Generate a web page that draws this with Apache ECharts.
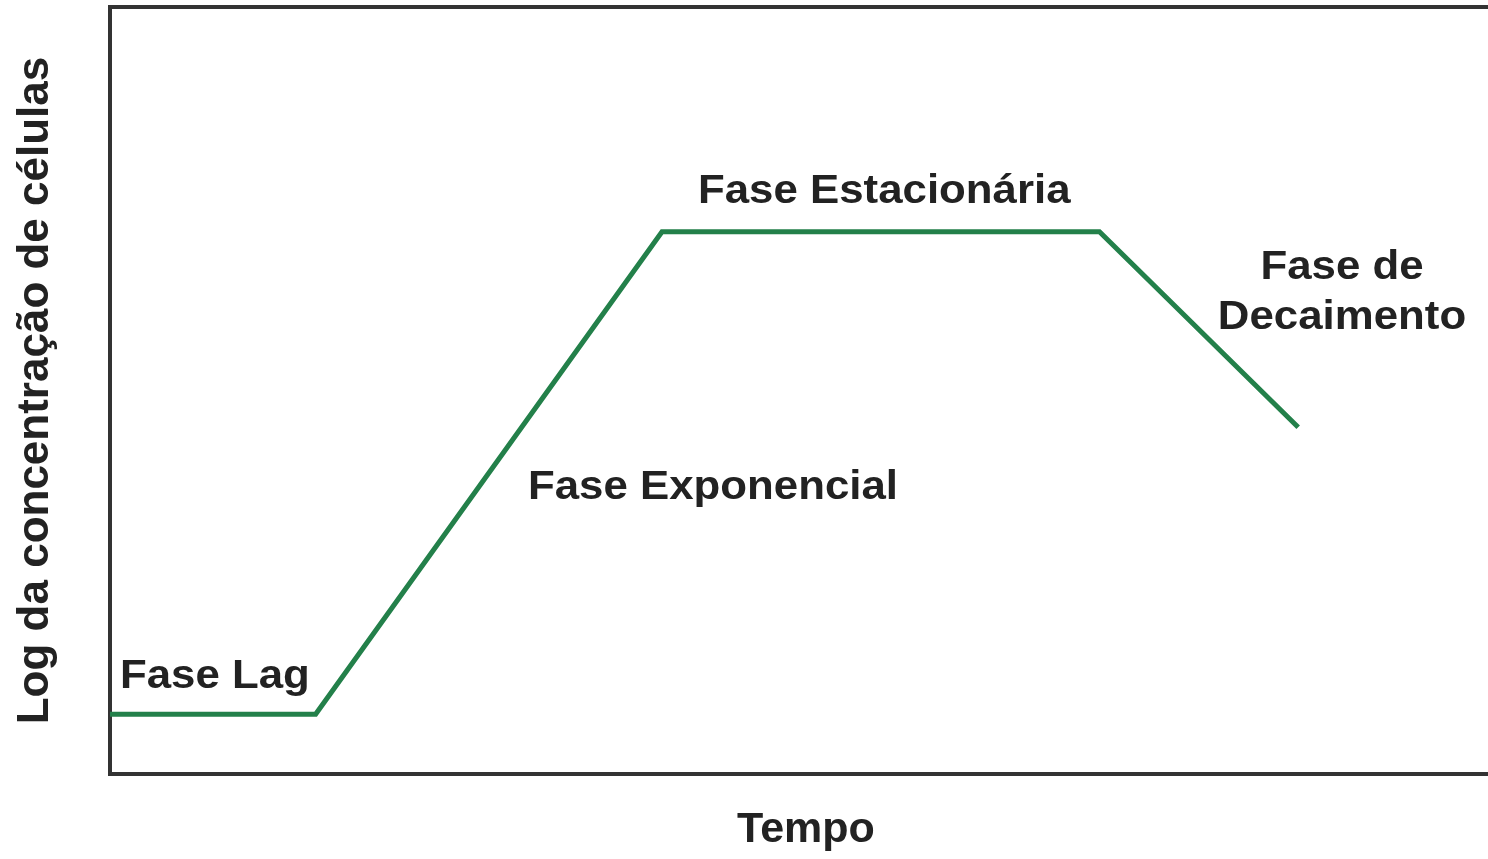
<!DOCTYPE html>
<html>
<head>
<meta charset="utf-8">
<title>Curva de crescimento</title>
<script src="https://cdn.jsdelivr.net/npm/echarts@6/dist/echarts.min.js"></script>
<style>
  html, body { margin: 0; padding: 0; background: #fff; }
  #container { width: 1488px; height: 859px; }
</style>
</head>
<body>
<div id="container"></div>
<script>
var dom = document.getElementById("container");
var myChart = echarts.init(dom);

// tempo (0-100) e log da concentração (0-100)
var tempo = [0, 14.9, 40.0, 71.7, 86.1];
var logConc = [7.8, 7.8, 70.7, 70.7, 45.2];

var fases = ['Fase Lag', 'Fase Exponencial', 'Fase Estacionária', 'Fase de\nDecaimento'];

var verde = '#23804a';
var fonte = '"Liberation Sans", Arial, Helvetica, sans-serif';

var pontos = [];
for (var i = 0; i < tempo.length; i++) {
    pontos.push([tempo[i], logConc[i]]);
}

// texto das fases, um pouco esticado na horizontal como no original
function texto(str, x, y, align) {
    return {
        type: 'text',
        x: x, y: y,
        scaleX: 1.095,
        style: {
            text: str,
            align: align || 'left',
            verticalAlign: 'top',
            lineHeight: 50,
            fontFamily: fonte,
            fontWeight: 'bold',
            fontSize: 40,
            fill: '#222'
        }
    };
}

option = {
    animation: false,
    backgroundColor: '#fff',
    grid: {
        left: 110,
        top: 7,
        width: 1380,
        bottom: 85,
        outerBoundsMode: 'none',
        show: true,
        borderColor: '#333',
        borderWidth: 4
    },
    xAxis: {
        type: 'value',
        min: 0,
        max: 100,
        name: 'Tempo',
        nameLocation: 'middle',
        nameGap: 35,
        nameTextStyle: { fontFamily: fonte, fontWeight: 'bold', fontSize: 43, color: '#222', padding: [0, 0, 0, 12] },
        axisLine: { show: false },
        axisTick: { show: false },
        axisLabel: { show: false },
        splitLine: { show: false }
    },
    yAxis: {
        type: 'value',
        min: 0,
        max: 100,
        name: 'Log da concentração de células',
        nameLocation: 'middle',
        nameGap: 52,
        nameTextStyle: { fontFamily: fonte, fontWeight: 'bold', fontSize: 44, color: '#222' },
        axisLine: { show: false },
        axisTick: { show: false },
        axisLabel: { show: false },
        splitLine: { show: false }
    },
    graphic: [
        texto(fases[0], 120, 652),
        texto(fases[1], 528, 463),
        texto(fases[2], 698, 167),
        texto(fases[3], 1342, 243, 'center')
    ],
    series: [
        {
            type: 'line',
            data: pontos,
            symbol: 'none',
            lineStyle: { color: verde, width: 5, join: 'miter' }
        }
    ]
};

if (option && typeof option === "object") {
    myChart.setOption(option, true);
}
</script>
</body>
</html>
